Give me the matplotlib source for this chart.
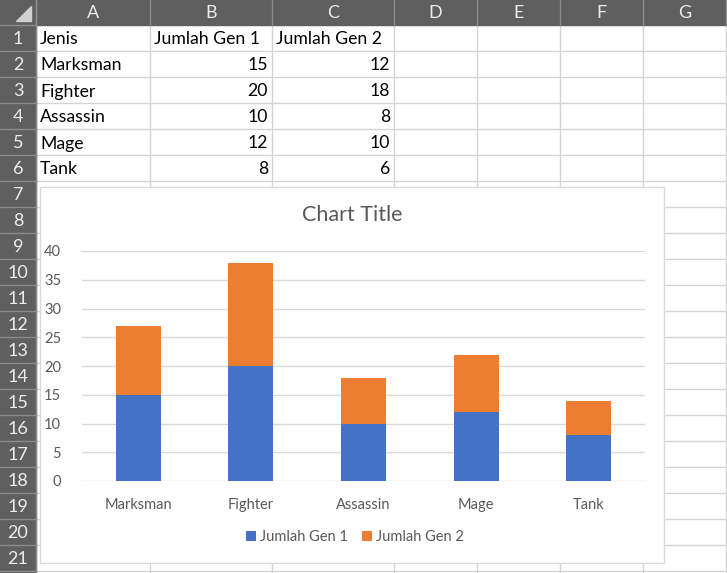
import numpy as np
import matplotlib.pyplot as plt
from matplotlib.patches import Rectangle, Polygon

plt.rcParams['font.family'] = ['Lato', 'DejaVu Sans']

# --- data ---
jenis = ['Marksman', 'Fighter', 'Assassin', 'Mage', 'Tank']
gen1 = [15, 20, 10, 12, 8]
gen2 = [12, 18, 8, 10, 6]
header = ['Jenis', 'Jumlah Gen 1', 'Jumlah Gen 2']
col_names = ['A', 'B', 'C', 'D', 'E', 'F', 'G']
n_rows = 21

# sheet geometry (pixels)
W, H = 727, 573
col_edges = [36, 150, 272, 394, 477, 560, 643, 726]
head_h = 25
row_h = 26

hdr_bg = '#5f5f5f'
hdr_line = '#8c8c8c'
grid_c = '#d4d4d4'
txt_c = '#000000'

fig = plt.figure(figsize=(W / 100, H / 100), dpi=100)
sheet = fig.add_axes([0, 0, 1, 1])
sheet.set_xlim(0, W)
sheet.set_ylim(H, 0)
sheet.axis('off')

# gridlines of cells
for x in col_edges[1:]:
    sheet.plot([x, x], [head_h, H], color=grid_c, lw=1)
for i in range(1, n_rows + 2):
    y = head_h + i * row_h
    sheet.plot([col_edges[0], W], [y, y], color=grid_c, lw=1)

# column header band
sheet.add_patch(Rectangle((0, 0), W, head_h, color=hdr_bg, zorder=3))
for x in col_edges:
    sheet.plot([x, x], [0, head_h], color=hdr_line, lw=1, zorder=4)
for j, name in enumerate(col_names):
    xc = (col_edges[j] + col_edges[j + 1]) / 2
    sheet.text(xc, head_h / 2 + 1, name, ha='center', va='center',
               fontsize=13, color='#ececec', zorder=5)

# row header band
sheet.add_patch(Rectangle((0, head_h), col_edges[0], H - head_h, color=hdr_bg, zorder=3))
for i in range(n_rows + 1):
    y = head_h + i * row_h
    sheet.plot([0, col_edges[0]], [y, y], color=hdr_line, lw=1, zorder=4)
    if i < n_rows:
        sheet.text(col_edges[0] / 2, y + row_h / 2 + 1, str(i + 1), ha='center', va='center',
                   fontsize=13, color='#ececec', zorder=5)

# corner triangle
sheet.add_patch(Polygon([[31, 6], [31, 21], [16, 21]], closed=True, color='#d0d0d0', zorder=5))
sheet.plot([col_edges[0], col_edges[0]], [0, H], color=hdr_line, lw=1, zorder=4)

# cell contents
def cell_y(r):
    return head_h + (r - 1) * row_h + row_h / 2 + 1.5

for j, h in enumerate(header):
    sheet.text(col_edges[j] + 4, cell_y(1), h, ha='left', va='center', fontsize=12.7, color=txt_c)
for i, (name, a, b) in enumerate(zip(jenis, gen1, gen2)):
    r = i + 2
    sheet.text(col_edges[0] + 4, cell_y(r), name, ha='left', va='center', fontsize=12.7, color=txt_c)
    sheet.text(col_edges[2] - 4, cell_y(r), str(a), ha='right', va='center', fontsize=12.7, color=txt_c)
    sheet.text(col_edges[3] - 4, cell_y(r), str(b), ha='right', va='center', fontsize=12.7, color=txt_c)

# chart box
cx0, cy0, cx1, cy1 = 40, 187, 664, 563
sheet.add_patch(Rectangle((cx0, cy0), cx1 - cx0, cy1 - cy0, facecolor='white',
                          edgecolor='#d9d9d9', lw=1, zorder=6))

# chart plot area
px0, px1, py_top, py_bot = 82, 645, 251, 481
ax = fig.add_axes([px0 / W, (H - py_bot) / H, (px1 - px0) / W, (py_bot - py_top) / H])
ax.set_zorder(10)
ax.patch.set_alpha(0)

x = np.arange(len(jenis))
b1 = ax.bar(x, gen1, width=0.4, color='#4472c4', label='Jumlah Gen 1', zorder=3)
b2 = ax.bar(x, gen2, width=0.4, bottom=gen1, color='#ed7d31', label='Jumlah Gen 2', zorder=3)

ax.set_xlim(-0.5, len(jenis) - 0.5)
ax.set_ylim(0, 40)
ax.set_yticks(range(0, 41, 5))
ax.set_xticks(x)
ax.set_xticklabels(jenis)
ax.grid(axis='y', color='#d9d9d9', lw=1, zorder=0)
for s in ax.spines.values():
    s.set_visible(False)
ax.tick_params(length=0, labelsize=10.5, labelcolor='#595959')
ax.tick_params(axis='y', pad=15)
ax.tick_params(axis='x', pad=12)

fig.text(352 / W, (H - 215) / H, 'Chart Title', ha='center', va='center',
         fontsize=15.5, color='#595959', zorder=12)

leg = fig.legend(handles=[b1, b2], loc='center', bbox_to_anchor=(355 / W, (H - 537) / H),
                 ncol=2, frameon=False, fontsize=10.5, handlelength=0.7, handleheight=0.7,
                 handletextpad=0.25, columnspacing=1.0)
for t in leg.get_texts():
    t.set_color('#595959')
leg.set_zorder(12)

fig.savefig('out.png', dpi=100)
